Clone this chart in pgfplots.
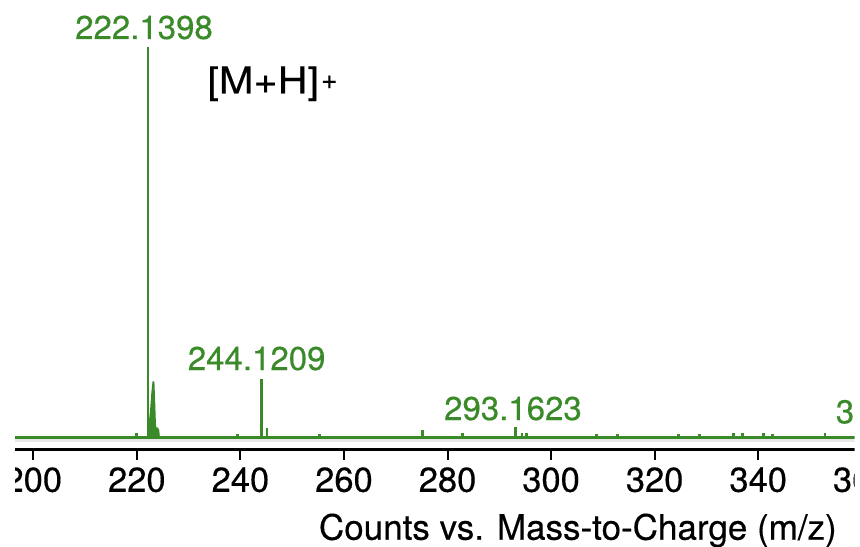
\documentclass[border=0pt]{standalone}
\usepackage{pgfplots}
\pgfplotsset{compat=1.18}
\usepackage{graphicx}
\usepackage{fontspec}
\setmainfont{TeX Gyre Heros}[FakeBold=0.35]
\definecolor{msgreen}{RGB}{58,138,42}
\begin{document}
\begin{tikzpicture}
\useasboundingbox (0,0) rectangle (430pt,273pt);
\clip (7.5pt,0pt) rectangle (427.25pt,273pt);
\begin{axis}[
  at={(7.5pt,48.15pt)}, anchor=south west,
  width=428.55pt, height=224.85pt, scale only axis,
  xmin=196.466, xmax=362, ymin=-3.256, ymax=112.05,
  axis x line*=bottom, axis y line=none,
  clip=false,
  xtick={200,220,...,360}, ytick=\empty,
  tick align=outside, major tick length=5pt,
  every tick/.style={black, line width=1pt},
  x axis line style={black, line width=1.35pt},
  /pgf/number format/assume math mode=true,
  xticklabel style={font=\fontsize{17.25pt}{17.25pt}\selectfont, inner sep=0pt, yshift=-3.6pt},
]
% light gray line under the baseline
\addplot[gray!18, line width=1.5pt] coordinates {(196.466,-0.9) (362,-0.9)};
% baseline
\addplot[msgreen, line width=1.5pt] coordinates {(196.466,0) (362,0)};
% isotope profile
\addplot[fill=msgreen, draw=msgreen, line width=1pt, line join=round] coordinates {
 (222.15,0) (222.45,3) (222.75,7) (223.0,11.5) (223.2,14.1) (223.35,9) (223.5,3)
 (223.65,2.2) (223.95,2.2) (224.15,1.6) (224.25,0)} \closedcycle;
% stick peaks
\addplot[ycomb, msgreen, line width=1.4pt, mark=none] coordinates {
 (220.0,1.0) (222.1398,100) (239.4,0.8) (244.1209,14.8) (245.15,2.4)
 (255.2,0.8) (275.1,1.7) (282.9,0.9) (293.1623,2.5) (294.4,0.9) (295.2,0.9)
 (308.8,0.8) (312.9,0.8) (324.6,0.8) (328.7,0.8) (335.2,0.9) (337.0,0.9)
 (341.0,0.9) (342.7,0.8) (352.9,0.9)};
% peak labels
\node[anchor=base, inner sep=0pt, text=msgreen, font=\fontsize{16.5pt}{16.5pt}\selectfont] at (axis cs:221.38,102.05) {222.1398};
\node[anchor=base, inner sep=0pt, text=msgreen, font=\fontsize{16.5pt}{16.5pt}\selectfont] at (axis cs:243.14,17.18) {244.1209};
\node[anchor=base, inner sep=0pt, text=msgreen, font=\fontsize{16.5pt}{16.5pt}\selectfont] at (axis cs:292.64,4.36) {293.1623};
\node[anchor=base west, inner sep=0pt, text=msgreen, font=\fontsize{16.5pt}{16.5pt}\selectfont] at (axis cs:354.92,3.51) {3};
% annotation
\node[anchor=base west, inner sep=0pt, font=\fontsize{18.5pt}{18.5pt}\selectfont] at (axis cs:233.55,88.13) {\scalebox{1.12}[1]{[M+H]}\hspace{1pt}\raisebox{2.2pt}{\fontsize{14pt}{14pt}\selectfont +}};
\end{axis}
\node[anchor=base west, inner sep=0pt, font=\fontsize{17.5pt}{17.5pt}\selectfont] at (159.3pt,3.15pt) {Counts vs. Mass-to-Charge (m/z)};
\end{tikzpicture}
\end{document}
